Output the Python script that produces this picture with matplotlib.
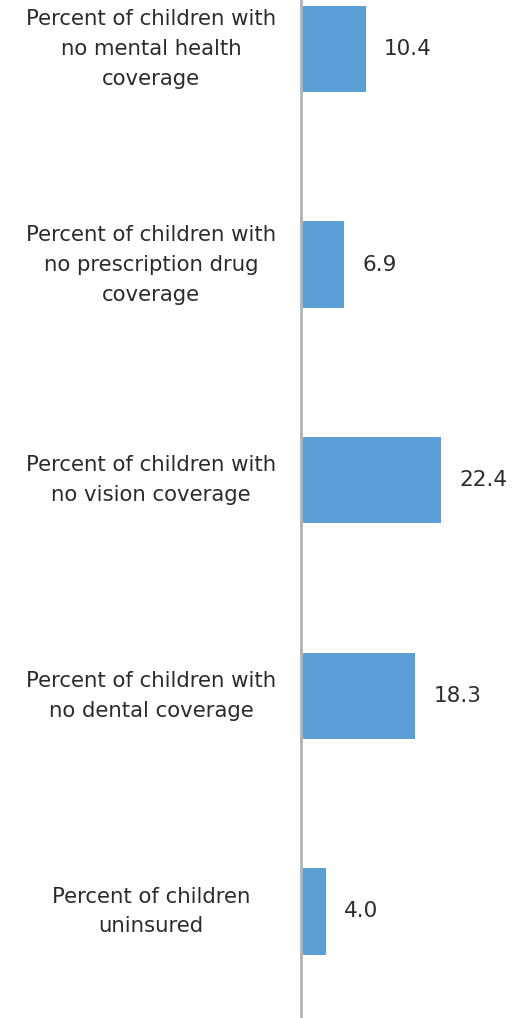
import matplotlib
matplotlib.use("Agg")
import matplotlib.pyplot as plt
from matplotlib.transforms import blended_transform_factory

categories = [
    "Percent of children with\nno mental health\ncoverage",
    "Percent of children with\nno prescription drug\ncoverage",
    "Percent of children with\nno vision coverage",
    "Percent of children with\nno dental coverage",
    "Percent of children\nuninsured",
]
values = [10.4, 6.9, 22.4, 18.3, 4.0]

W, H = 521, 1018
fig = plt.figure(figsize=(W / 100, H / 100), dpi=100)
ax = fig.add_axes([301 / W, 0, 1 - 301 / W, 1])

pos = list(range(len(categories)))
ax.barh(pos, values, height=0.4, color="#5b9fd6", zorder=2)
ax.set_xlim(0, 35.2)
ax.set_ylim(4.494, -0.227)

for s in ["top", "right", "bottom"]:
    ax.spines[s].set_visible(False)
ax.spines["left"].set_color("#b3b3b3")
ax.spines["left"].set_linewidth(2)
ax.set_xticks([])
ax.set_yticks([])

text_color = "#2b2b2b"
for p, v in zip(pos, values):
    ax.text(v + 2.9, p, f"{v:.1f}", va="center", ha="left",
            fontsize=15.5, color=text_color, family="DejaVu Sans")

trans = blended_transform_factory(fig.transFigure, ax.transData)
for p, c in zip(pos, categories):
    fig.text(151 / W, p, c, transform=trans, ha="center", va="center",
             fontsize=15.3, color=text_color, family="DejaVu Sans",
             linespacing=1.62, multialignment="center")

fig.savefig("out.png", dpi=100)
